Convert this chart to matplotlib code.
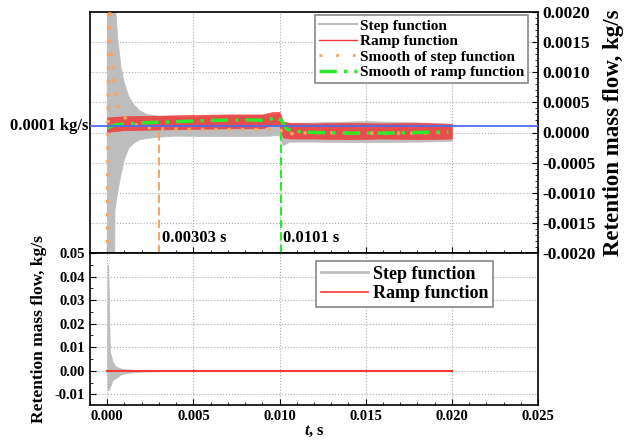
import matplotlib
matplotlib.use('Agg')
import matplotlib.pyplot as plt
from matplotlib.lines import Line2D
from matplotlib.ticker import MultipleLocator, FormatStrFormatter

# 数据
# 上图：阶跃函数的包络
t_step = [0, 0.0003, 0.00045, 0.0006, 0.0008, 0.001, 0.00125, 0.00155, 0.0019, 0.0023, 0.0029,
          0.004, 0.006, 0.008, 0.0095, 0.0100, 0.0102, 0.0106, 0.012, 0.015, 0.018, 0.020]
step_hi = [0.01, 0.01, 0.0022, 0.0016, 0.00108, 0.00082, 0.0006, 0.00046, 0.00036, 0.0003, 0.00027,
           0.00025, 0.00026, 0.00027, 0.00028, 0.00030, 0.00015, 0.00015, 0.00016, 0.00018, 0.00016, 0.00014]
step_lo = [-0.01, -0.01, -0.0013, -0.001, -0.0007, -0.00045, -0.00026, -0.00018, -0.00012, -0.0001, -0.00008,
           -0.00006, -0.00007, -0.00007, -0.00006, -0.00005, -0.00022, -0.00016, -0.00016, -0.00017, -0.00016, -0.00015]

# 斜坡函数的包络
t_ramp = [0, 0.001, 0.003, 0.005, 0.007, 0.009, 0.0096, 0.0100, 0.0102, 0.0106, 0.012, 0.014, 0.016, 0.018, 0.020]
ramp_hi = [0.00025, 0.00027, 0.00028, 0.00029, 0.00030, 0.00030, 0.00034, 0.00034, 0.00018, 0.00016,
           0.00015, 0.00016, 0.00015, 0.00016, 0.00014]
ramp_lo = [0.00001, 0.00004, 0.00005, 0.00006, 0.00007, 0.00007, 0.00013, 0.00011, -0.00008, -0.0001,
           -0.0001, -0.00011, -0.0001, -0.00011, -0.0001]

# 平滑曲线
t_smooth_step = [0, 0.0001, 0.00018, 0.0003, 0.00045, 0.0006, 0.0009, 0.0012, 0.0016, 0.0022, 0.003,
                 0.005, 0.007, 0.009, 0.0100, 0.0103, 0.0106, 0.012, 0.015, 0.018, 0.0198]
smooth_step = [-0.0025, 0.0025, 0.0016, 0.0011, 0.0007, 0.00045, 0.00028, 0.0002, 0.00013, 0.00009, 0.00006,
               0.00005, 0.00005, 0.00005, 0.00007, -0.00005, -0.00002, 0.0, -0.00001, -0.00001, 0.0]
t_smooth_ramp = [0, 0.0005, 0.002, 0.004, 0.006, 0.008, 0.0093, 0.0098, 0.0101, 0.0104, 0.0108,
                 0.012, 0.014, 0.016, 0.018, 0.0198]
smooth_ramp = [0.00008, 0.00013, 0.00016, 0.00018, 0.0002, 0.00021, 0.0002, 0.00026, 0.0002, 0.00006, 0.00002,
               0.0, -0.00001, -0.00001, 0.0, 0.00001]

threshold = 0.0001
settle_times = [0.00303, 0.0101]
settle_tops = [0.00006, 0.00007]
settle_labels = ['0.00303 s', '0.0101 s']

# 下图：完整范围
t_full = [0, 0.00002, 0.00005, 0.0001, 0.00015, 0.0002, 0.0003, 0.0005, 0.0008, 0.0012, 0.002, 0.003, 0.02]
full_hi = [0, 0.045, 0.045, 0.03, 0.008, 0.007, 0.004, 0.0018, 0.0009, 0.0005, 0.0002, 0.0001, 0.0001]
full_lo = [0, -0.008, -0.008, -0.008, -0.007, -0.006, -0.004, -0.003, -0.0015, -0.0008, -0.0003, -0.0001, -0.0001]
t_ramp_full = [0, 0.02]
ramp_full = [0, 0]

# 字体
plt.rcParams['font.family'] = ['Liberation Serif', 'DejaVu Serif']
plt.rcParams['font.weight'] = 'bold'
plt.rcParams['mathtext.fontset'] = 'custom'
plt.rcParams['mathtext.it'] = 'Liberation Serif:italic:bold'
plt.rcParams['mathtext.rm'] = 'Liberation Serif:bold'

gray = '#bdbdbd'
red = '#f03a3a'
orange = '#f5a566'
green = '#2ee82e'

fig = plt.figure(figsize=(6.29, 4.41), dpi=100)
W, H = 629, 441
ax1 = fig.add_axes([90 / W, 1 - 253 / H, 448 / W, 241 / H])
ax2 = fig.add_axes([90 / W, 1 - 405 / H, 448 / W, 152 / H], sharex=ax1)

# ---- 上图 ----
ax1.fill_between(t_step, step_lo, step_hi, color=gray, lw=0.5, zorder=2)
ax1.fill_between(t_ramp, ramp_lo, ramp_hi, color=red, alpha=0.85, lw=0.5, zorder=3)
ax1.plot(t_smooth_step, smooth_step, color=orange, ls=(0, (1, 3)), lw=2.4, zorder=4)
ax1.plot(t_smooth_ramp, smooth_ramp, color=green, ls=(0, (5, 2, 1, 2)), lw=2.5, zorder=5)
ax1.axhline(threshold, color='#4f6cf0', lw=1.3, zorder=6)
ax1.vlines(settle_times[0], -0.002, settle_tops[0], colors=orange, linestyles=(0, (4, 2)), lw=1.5, zorder=4)
ax1.vlines(settle_times[1], -0.002, settle_tops[1], colors=green, linestyles=(0, (4, 2)), lw=1.5, zorder=4)
ax1.text(settle_times[0] + 0.00012, -0.00182, settle_labels[0], fontsize=12, fontweight='bold')
ax1.text(settle_times[1] + 0.00012, -0.00182, settle_labels[1], fontsize=12, fontweight='bold')
ax1.text(-0.004, threshold, '0.0001 kg/s', transform=ax1.get_yaxis_transform(),
         ha='right', va='center', fontsize=12, fontweight='bold')

ax1.set_xlim(-0.001, 0.025)
ax1.set_ylim(-0.002, 0.002)
ax1.yaxis.tick_right()
ax1.yaxis.set_label_position('right')
ax1.yaxis.set_major_locator(MultipleLocator(0.0005))
ax1.yaxis.set_minor_locator(MultipleLocator(0.0001))
ax1.yaxis.set_major_formatter(FormatStrFormatter('%.4f'))
ax1.xaxis.set_major_locator(MultipleLocator(0.005))
ax1.xaxis.set_minor_locator(MultipleLocator(0.001))
ax1.tick_params(axis='both', which='both', direction='in', labelsize=12.5)
ax1.tick_params(axis='y', which='both', left=False, right=True, labelleft=False, labelright=True)
ax1.tick_params(axis='x', which='both', labelbottom=False)
ax1.tick_params(which='major', length=4)
ax1.tick_params(which='minor', length=2)
ax1.grid(True, ls=':', color='#aaaaaa', lw=0.8)
ax1.set_ylabel('Retention mass flow, kg/s', fontsize=16.5, fontweight='bold', labelpad=5)

handles1 = [Line2D([], [], color=gray, lw=1.5),
            Line2D([], [], color=red, lw=1),
            Line2D([], [], color=orange, ls=(0, (1, 5)), lw=2),
            Line2D([], [], color=green, ls=(0, (5, 2, 1, 2)), lw=2.5)]
labels1 = ['Step function', 'Ramp function', 'Smooth of step function', 'Smooth of ramp function']
leg1 = ax1.legend(handles1, labels1, loc='upper right', bbox_to_anchor=(1 - 10 / 448, 1 - 3 / 241),
                  borderaxespad=0, prop={'weight': 'bold', 'size': 11}, fancybox=False,
                  edgecolor='#888888', framealpha=1, handlelength=2.5, handletextpad=0.2,
                  labelspacing=0.12, borderpad=0.25)
leg1.get_frame().set_linewidth(1.2)

# ---- 下图 ----
ax2.fill_between(t_full, full_lo, full_hi, color=gray, lw=0.6, zorder=2)
ax2.plot(t_ramp_full, ramp_full, color=red, lw=1.5, zorder=3)
ax2.set_ylim(-0.0145, 0.05)
ax2.yaxis.set_major_locator(MultipleLocator(0.01))
ax2.yaxis.set_minor_locator(MultipleLocator(0.005))
ax2.yaxis.set_major_formatter(FormatStrFormatter('%.2f'))
ax2.xaxis.set_major_formatter(FormatStrFormatter('%.3f'))
ax2.tick_params(axis='both', which='both', direction='in', labelsize=10.5)
ax2.tick_params(which='major', length=4)
ax2.tick_params(which='minor', length=2)
ax2.grid(True, ls=':', color='#aaaaaa', lw=0.8)
ax2.set_xlabel(r'$t$, s', fontsize=12, fontweight='bold', labelpad=0)
ax2.set_ylabel('Retention mass flow, kg/s', fontsize=12.5, fontweight='bold', labelpad=6)

handles2 = [Line2D([], [], color=gray, lw=2), Line2D([], [], color=red, lw=1.2)]
leg2 = ax2.legend(handles2, ['Step function', 'Ramp function'], loc='upper right',
                  bbox_to_anchor=(1 - 45 / 448, 1 - 8 / 152), borderaxespad=0,
                  prop={'weight': 'bold', 'size': 13}, fancybox=False, edgecolor='#888888',
                  framealpha=1, handlelength=2.6, handletextpad=0.3, labelspacing=0.15, borderpad=0.25)
leg2.get_frame().set_linewidth(1.2)

for ax in (ax1, ax2):
    for sp in ax.spines.values():
        sp.set_linewidth(1.2)

plt.savefig('out.png', dpi=100)
